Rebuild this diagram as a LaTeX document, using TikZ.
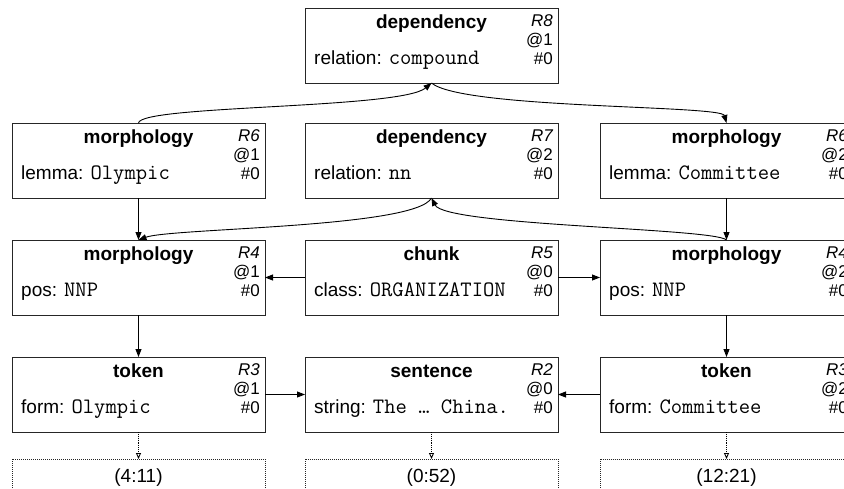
\documentclass[tikz,border=0pt]{standalone}
\usepackage{fontspec}
\setmainfont{Liberation Sans}
\usetikzlibrary{arrows.meta}

% text sizes
\newcommand{\mainsize}{\fontsize{19}{22}\selectfont}
\newcommand{\smallsize}{\fontsize{17}{20}\selectfont}
\newcommand{\codeval}[1]{{\ttfamily\fontsize{22}{24}\selectfont #1}}

\tikzset{
  rec/.style={draw=black!85, line width=1pt, minimum width=253pt,
    minimum height=75pt, inner sep=0pt, outer sep=0pt},
  spanbox/.style={draw=black!85, line width=1pt, densely dotted,
    minimum width=253pt, minimum height=70pt, inner sep=0pt, outer sep=0pt},
  ttl/.style={anchor=base, inner sep=0pt, font=\mainsize\bfseries},
  attr/.style={anchor=base west, inner sep=0pt, font=\mainsize},
  lbl/.style={anchor=base east, inner sep=0pt, font=\smallsize},
  spantxt/.style={anchor=base, inner sep=0pt, font=\mainsize},
  link/.style={line width=0.9pt, -{Triangle[length=8pt,width=6pt]}},
  spanlink/.style={line width=0.9pt, densely dotted,
    -{Triangle[open,length=6pt,width=5pt]}},
}

% one annotation record: name, x, y, title, attribute, value, R-id, position
\newcommand{\annobox}[8]{%
  \node[rec, anchor=north west] (#1) at (#2,#3) {};
  \node[ttl] (#1-t) at ([yshift=-20pt]#1.north) {#4};
  \node[attr] (#1-a) at ([xshift=9pt,yshift=-56pt]#1.north west) {#5: \codeval{#6}};
  \node[lbl] (#1-r) at ([xshift=-5pt,yshift=-18.5pt]#1.north east) {\itshape #7};
  \node[lbl] (#1-p) at ([xshift=-5pt,yshift=-37pt]#1.north east) {@#8};
  \node[lbl] (#1-c) at ([xshift=-5pt,yshift=-56pt]#1.north east) {\#0};
}

\begin{document}
\begin{tikzpicture}[x=1pt, y=-1pt]
  \useasboundingbox (0,0) rectangle (844,488);
  \clip (0,0) rectangle (844,488);

  % dependency layer
  \annobox{dep8}{305}{8}{dependency}{relation}{compound}{R8}{1}
  \annobox{mor6a}{12}{123}{morphology}{lemma}{Olympic}{R6}{1}
  \annobox{dep7}{305}{123}{dependency}{relation}{nn}{R7}{2}
  \annobox{mor6b}{600}{123}{morphology}{lemma}{Committee}{R6}{2}

  % part-of-speech and chunk layer
  \annobox{mor4a}{12}{240}{morphology}{pos}{NNP}{R4}{1}
  \annobox{chk5}{305}{240}{chunk}{class}{ORGANIZATION}{R5}{0}
  \annobox{mor4b}{600}{240}{morphology}{pos}{NNP}{R4}{2}

  % token and sentence layer
  \annobox{tok3a}{12}{357}{token}{form}{Olympic}{R3}{1}
  \annobox{sen2}{305}{357}{sentence}{string}{The … China.}{R2}{0}
  \annobox{tok3b}{600}{357}{token}{form}{Committee}{R3}{2}

  % text spans
  \node[spanbox, anchor=north west] (spa) at (12,459) {};
  \node[spantxt] (spa-t) at ([yshift=-23pt]spa.north) {(4:11)};
  \node[spanbox, anchor=north west] (spb) at (305,459) {};
  \node[spantxt] (spb-t) at ([yshift=-23pt]spb.north) {(0:52)};
  \node[spanbox, anchor=north west] (spc) at (600,459) {};
  \node[spantxt] (spc-t) at ([yshift=-23pt]spc.north) {(12:21)};

  % dependency arcs
  \draw[link] (mor6a.north) .. controls ([xshift=2pt,yshift=18pt]mor6a.north)
      and ([xshift=-31pt,yshift=-26pt]dep8.south) .. (dep8.south);
  \draw[link] (dep8.south) .. controls ([xshift=31pt,yshift=-26pt]dep8.south)
      and ([xshift=-5pt,yshift=18pt]mor6b.north) .. (mor6b.north);
  \draw[link] (dep7.south) .. controls ([xshift=-16pt,yshift=-30pt]dep7.south)
      and ([xshift=32pt,yshift=12pt]mor4a.north) .. (mor4a.north);
  \draw[link] (mor4b.north) .. controls ([xshift=-12pt,yshift=12pt]mor4b.north)
      and ([xshift=14pt,yshift=-28pt]dep7.south) .. (dep7.south);

  % vertical links
  \draw[link] (mor6a) -- (mor4a);
  \draw[link] (mor6b) -- (mor4b);
  \draw[link] (mor4a) -- (tok3a);
  \draw[link] (mor4b) -- (tok3b);

  % horizontal links
  \draw[link] (chk5) -- (mor4a);
  \draw[link] (chk5) -- (mor4b);
  \draw[link] (tok3a) -- (sen2);
  \draw[link] (tok3b) -- (sen2);

  % span links
  \draw[spanlink] (tok3a) -- (spa);
  \draw[spanlink] (sen2) -- (spb);
  \draw[spanlink] (tok3b) -- (spc);
\end{tikzpicture}
\end{document}
